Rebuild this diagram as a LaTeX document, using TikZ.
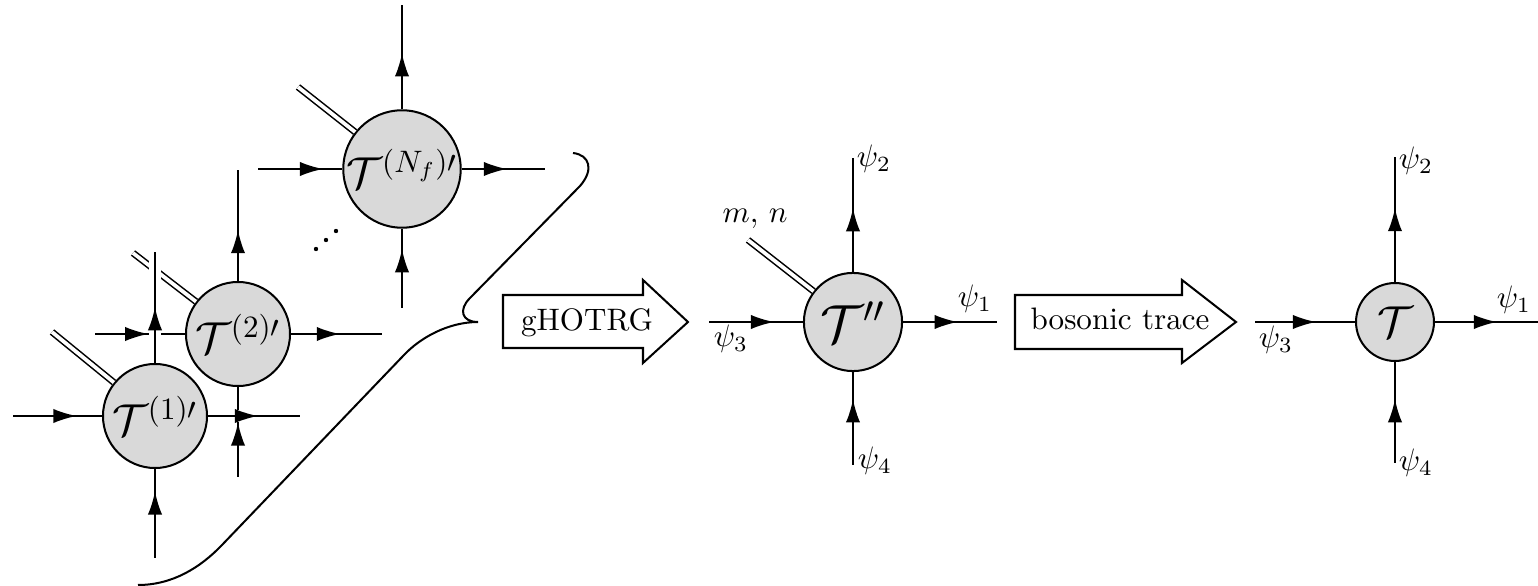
\documentclass[tikz,border=0pt]{standalone}
\usepackage{amsmath}
\usetikzlibrary{arrows.meta,decorations.markings}
\begin{document}
\begin{tikzpicture}[x=0.322pt,y=-0.322pt,
  ln/.style={line width=0.65pt},
  tensor/.style={circle,draw,line width=0.65pt,fill=black!15,inner sep=0pt},
  arr/.style={postaction={decorate,decoration={markings,mark=at position #1 with {\arrow{Latex[length=7.5pt,width=4.6pt]}}}}},
  dbl/.style={double,line width=0.5pt,double distance=1.2pt},
  over/.style={preaction={draw=white,line width=4pt}},
  blockarrow/.style={line width=0.65pt,line join=miter}]
\useasboundingbox (0,0) rectangle (1538,586);

% ---------- tensor N_f ----------
\node[tensor,minimum size=34.8pt] (cn) at (402,169) {\Large$\mathcal{T}^{(N_f)\prime}$};
\coordinate (cnl) at (258,169);
\coordinate (cnr) at (545,169);
\coordinate (cnu) at (402,5);
\coordinate (cnd) at (402,308);
\coordinate (cndb) at (298,87);
\draw[ln,arr=21pt] (cnl) -- (cn);
\draw[ln,arr=-12.2pt] (cn) -- (cnr);
\draw[ln,arr=-15.5pt] (cn) -- (cnu);
\draw[ln,arr=19pt] (cnd) -- (cn);
\draw[dbl] (cn) -- (cndb);

% dots
\fill (316,249) circle (0.7pt);
\fill (326,240) circle (0.7pt);
\fill (336,231) circle (0.7pt);

% ---------- tensor 2 ----------
\node[tensor,minimum size=33.5pt] (c2) at (238,334) {\Large$\mathcal{T}^{(2)\prime}$};
\coordinate (c2l) at (95,334);
\coordinate (c2r) at (382,334);
\coordinate (c2u) at (238,170);
\coordinate (c2d) at (238,477);
\coordinate (c2db) at (133,253);
\draw[ln,arr=17.2pt] (c2l) -- (c2);
\draw[ln,arr=-13.5pt] (c2) -- (c2r);
\draw[ln,arr=-19.3pt] (c2) -- (c2u);
\draw[ln,arr=17.6pt] (c2d) -- (c2);
\draw[dbl] (c2) -- (c2db);

% ---------- tensor 1 ----------
\node[tensor,minimum size=33.5pt] (c1) at (155,416) {\Large$\mathcal{T}^{(1)\prime}$};
\coordinate (c1l) at (13,416);
\coordinate (c1r) at (300,416);
\coordinate (c1u) at (155,252);
\coordinate (c1d) at (155,558);
\coordinate (c1db) at (52,332);
\draw[ln,arr=20.5pt] (c1l) -- (c1);
\draw[ln,over,arr=-13.5pt] (c1) -- (c1r);
\draw[ln,over,arr=-17.7pt] (c1) -- (c1u);
\draw[ln,arr=21.5pt] (c1d) -- (c1);
\draw[dbl] (c1) -- (c1db);

% ---------- brace ----------
\draw[ln] (573,153) .. controls (590,155) and (594,170) .. (580,186)
  -- (470,298) .. controls (458,310) and (462,322) .. (478,322)
  .. controls (448,322) and (420,338) .. (404,355)
  -- (222,545) .. controls (200,568) and (172,585) .. (138,585);

% ---------- gHOTRG arrow ----------
\draw[blockarrow] (503,295) -- (643,295) -- (643,280) -- (688,322) -- (643,363) -- (643,348) -- (503,348) -- cycle;
\node[anchor=base] (ghotrg) at (587,331) {gHOTRG};

% ---------- tensor T'' ----------
\node[tensor,minimum size=31.6pt] (tm) at (853,322) {\LARGE$\mathcal{T}''$};
\coordinate (tml) at (709,322);
\coordinate (tmr) at (997,322);
\coordinate (tmu) at (853,158);
\coordinate (tmd) at (853,465);
\coordinate (tmdb) at (748,240);
\draw[ln,arr=21pt] (tml) -- (tm);
\draw[ln,arr=-12.6pt] (tm) -- (tmr);
\draw[ln,arr=-16.1pt] (tm) -- (tmu);
\draw[ln,arr=21.2pt] (tmd) -- (tm);
\draw[dbl] (tm) -- (tmdb);
\node[anchor=base] (mn) at (755,223) {$m,\,n$};
\node (tmp1) at (975,299) {$\psi_1$};
\node (tmp2) at (874,159) {$\psi_2$};
\node (tmp3) at (731,339) {$\psi_3$};
\node (tmp4) at (875,461) {$\psi_4$};

% ---------- bosonic trace arrow ----------
\draw[blockarrow] (1015,295) -- (1182,295) -- (1182,280) -- (1236,322) -- (1182,363) -- (1182,349) -- (1015,349) -- cycle;
\node[anchor=base] (btrace) at (1120,330) {bosonic trace};

% ---------- tensor T ----------
\node[tensor,minimum size=25.1pt] (tr) at (1395,322) {\Large$\mathcal{T}$};
\coordinate (trl) at (1255,322);
\coordinate (trr) at (1540,322);
\coordinate (tru) at (1395,157);
\coordinate (trd) at (1395,463);
\draw[ln,arr=19.7pt] (trl) -- (tr);
\draw[ln,arr=-13.8pt] (tr) -- (trr);
\draw[ln,arr=-16.4pt] (tr) -- (tru);
\draw[ln,arr=20.6pt] (trd) -- (tr);
\node (trp1) at (1514,300) {$\psi_1$};
\node (trp2) at (1416,161) {$\psi_2$};
\node (trp3) at (1276,340) {$\psi_3$};
\node (trp4) at (1416,463) {$\psi_4$};
\end{tikzpicture}
\end{document}
